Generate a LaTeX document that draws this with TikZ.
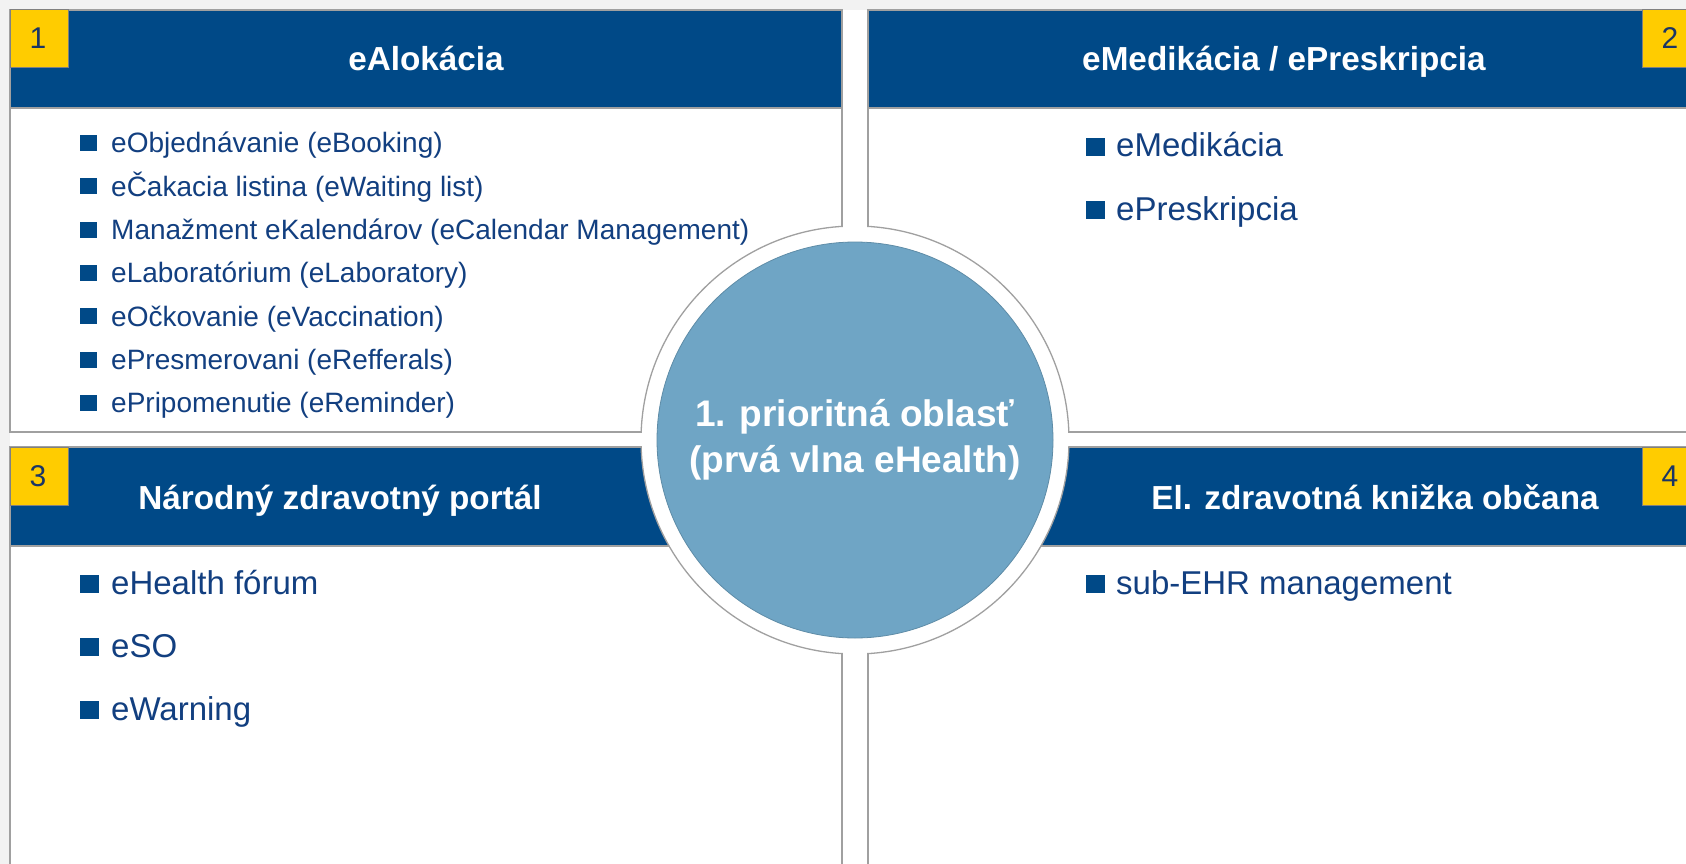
\documentclass[tikz,border=0pt]{standalone}
\usepackage{fontspec}
\setmainfont{Liberation Sans}
\definecolor{hdr}{HTML}{004987}
\definecolor{circblue}{HTML}{6FA5C5}
\definecolor{ybox}{HTML}{FFCC00}
\definecolor{bggray}{HTML}{F2F2F2}
\definecolor{bordergray}{HTML}{A0A0A0}
\definecolor{txtblue}{HTML}{123F80}
\definecolor{numblue}{HTML}{1A3566}
\tikzset{
  panelbox/.style={draw=bordergray, line width=1.3pt, fill=white},
  hdrfill/.style={fill=hdr},
  hdrline/.style={draw=bordergray, line width=1.3pt},
  numbox/.style={fill=ybox, draw=bordergray!80!black, line width=1pt},
  numtxt/.style={anchor=base, text=numblue, font=\fontsize{30}{36}\selectfont},
  hdrtxt/.style={anchor=base, text=white, font=\fontsize{33.3}{40}\selectfont\bfseries},
  itemA/.style={anchor=base west, text=txtblue, inner sep=0pt, font=\fontsize{28}{33}\selectfont},
  itemB/.style={anchor=base west, text=txtblue, inner sep=0pt, font=\fontsize{33}{39}\selectfont},
  bulletA/.style={fill=hdr},
  ringline/.style={draw=bordergray, line width=1.3pt, fill=white},
}
\begin{document}
\begin{tikzpicture}[x=1pt,y=-1pt]
\useasboundingbox (0,0) rectangle (1686,864);
\clip (0,0) rectangle (1686,864);
\fill[bggray] (0,0) rectangle (1686,864);
\fill[white] (10,10) rectangle (1700,880);

% panel 1
\fill[white] (10,10) rectangle (842,432);
\fill[hdrfill] (10,10) rectangle (842,108);
\draw[hdrline] (10,108) -- (842,108);
\draw[panelbox, fill=none] (10,10) rectangle (842,432);
% panel 2
\fill[white] (868,10) rectangle (1700,432);
\fill[hdrfill] (868,10) rectangle (1700,108);
\draw[hdrline] (868,108) -- (1700,108);
\draw[panelbox, fill=none] (868,10) rectangle (1700,432);
% panel 3
\fill[white] (10,447) rectangle (842,880);
\fill[hdrfill] (10,447) rectangle (842,546);
\draw[hdrline] (10,546) -- (842,546);
\draw[panelbox, fill=none] (10,447) rectangle (842,880);
% panel 4
\fill[white] (868,447) rectangle (1700,880);
\fill[hdrfill] (868,447) rectangle (1700,546);
\draw[hdrline] (868,546) -- (1700,546);
\draw[panelbox, fill=none] (868,447) rectangle (1700,880);

% number boxes
\draw[numbox] (10,10) rectangle (68,68);
\draw[numbox] (1642,10) rectangle (1700,68);
\draw[numbox] (10,447) rectangle (68,505);
\draw[numbox] (1642,447) rectangle (1700,505);
\node[numtxt] (n1) at (38,49) {1};
\node[numtxt] (n2) at (1670,49) {2};
\node[numtxt] (n3) at (38,486) {3};
\node[numtxt] (n4) at (1670,486) {4};

% headers
\node[hdrtxt] (h1) at (426,71) {eAlokácia};
\node[hdrtxt] (h2) at (1284,71) {eMedikácia / ePreskripcia};
\node[hdrtxt] (h3) at (340,509) {Národný zdravotný portál};
\node[hdrtxt] (h4) at (1375,509) {El. zdravotná knižka občana};

% list 1
\foreach \t [count=\i] in {eObjednávanie (eBooking),eČakacia listina (eWaiting list),Manažment eKalendárov (eCalendar Management),eLaboratórium (eLaboratory),eOčkovanie (eVaccination),ePresmerovani (eRefferals),ePripomenutie (eReminder)}{
  \pgfmathsetmacro\yb{153+(\i-1)*43.3}
  \fill[bulletA] (80,\yb-18) rectangle (97,\yb-2);
  \node[itemA] (a\i) at (111,\yb) {\t};
}
% list 2
\fill[bulletA] (1086,138) rectangle (1105,156);
\node[itemB] (b1) at (1116,157) {eMedikácia};
\fill[bulletA] (1086,201) rectangle (1105,219);
\node[itemB] (b2) at (1116,220) {ePreskripcia};
% list 3
\fill[bulletA] (80,575) rectangle (99,593);
\node[itemB] (c1) at (111,594) {eHealth fórum};
\fill[bulletA] (80,638) rectangle (99,656);
\node[itemB] (c2) at (111,657) {eSO};
\fill[bulletA] (80,701) rectangle (99,719);
\node[itemB] (c3) at (111,720) {eWarning};
% list 4
\fill[bulletA] (1086,575) rectangle (1105,593);
\node[itemB] (d1) at (1116,594) {sub-EHR management};

% ring
\draw[ringline] (855,440) circle (214);
\fill[white] (843.2,200) rectangle (866.8,262);
\fill[white] (843.2,620) rectangle (866.8,680);
\fill[white] (610,433.2) rectangle (672,445.8);
\fill[white] (1040,433.2) rectangle (1100,445.8);
% centre circle
\node[circle, fill=circblue, draw=circblue!85!black, line width=0.8pt, minimum size=396pt, inner sep=0pt] (c) at (855,440) {};
\node[align=center, text=white, font=\fontsize{37}{46}\selectfont\bfseries] (ct) at (855,440) {1. prioritná oblasť\\(prvá vlna eHealth)};
\end{tikzpicture}
\end{document}
